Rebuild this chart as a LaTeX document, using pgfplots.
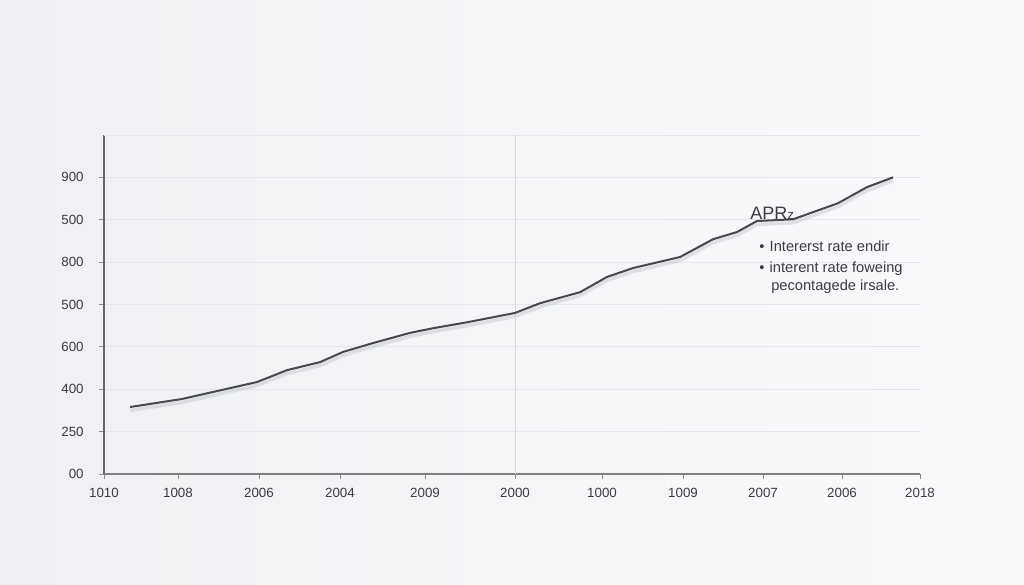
\documentclass[border=0pt]{standalone}
\usepackage{pgfplots}
\pgfplotsset{compat=1.18}
\usepackage{fontspec}
\setmainfont{Liberation Sans}

\definecolor{bgA}{RGB}{238,240,243}
\definecolor{bgB}{RGB}{249,250,251}
\definecolor{lineC}{RGB}{72,72,80}
\definecolor{shadowC}{RGB}{200,202,212}
\definecolor{txt}{RGB}{60,60,64}
\definecolor{gridC}{RGB}{228,230,234}

\begin{document}
\begin{tikzpicture}
\shade[left color=bgA, right color=bgB] (0,0) rectangle (768pt,438.75pt);
\path[use as bounding box] (0,0) rectangle (768pt,438.75pt);
\begin{axis}[
    at={(78pt,83.25pt)}, anchor=south west,
    scale only axis,
    width=612pt, height=254.25pt,
    xmin=104, xmax=920, ymin=0, ymax=8,
    axis x line=bottom, axis y line=left,
    axis line style={-, draw=black!60, line width=0.8pt},
    x axis line style={draw=black!50},
    xtick={104,178,259,340,425,515,602,683,763,842,920},
    xticklabels={1010,1008,2006,2004,2009,2000,1000,1009,2007,2006,2018},
    ytick={0,1,2,3,4,5,6,7},
    yticklabels={00,250,400,600,500,800,500,900},
    extra y ticks={8}, extra y tick labels={},
    extra y tick style={major tick length=0pt},
    tick align=outside, major tick length=3.75pt,
    tick style={draw=black!45, line width=0.6pt},
    ymajorgrids, grid style={draw=gridC, line width=0.6pt},
    ticklabel style={font=\fontsize{10}{12}\selectfont, text=txt},
    yticklabel style={xshift=-8pt},
    xticklabel style={yshift=-3pt},
    /pgf/number format/assume math mode=true,
    clip=false,
]
% vertical reference line
\addplot[draw=black!16, line width=0.6pt] coordinates {(515,0) (515,8)};
% soft shadow of the line
\addplot[draw=shadowC, line width=2.6pt, opacity=0.5, yshift=-2.6pt, line join=round] coordinates {
(130,1.58) (182,1.77) (257,2.17) (287,2.45) (320,2.64) (343,2.88) (373,3.09)
(410,3.33) (433,3.44) (467,3.58) (515,3.80) (540,4.03) (580,4.29) (607,4.65)
(633,4.86) (680,5.12) (713,5.54) (737,5.71) (757,5.97) (793,6.01) (838,6.39)
(867,6.77) (893,7.00)};
% main line
\addplot[draw=lineC, line width=1.5pt, line join=round] coordinates {
(130,1.58) (182,1.77) (257,2.17) (287,2.45) (320,2.64) (343,2.88) (373,3.09)
(410,3.33) (433,3.44) (467,3.58) (515,3.80) (540,4.03) (580,4.29) (607,4.65)
(633,4.86) (680,5.12) (713,5.54) (737,5.71) (757,5.97) (793,6.01) (838,6.39)
(867,6.77) (893,7.00)};
% annotation
\node[anchor=base west, inner sep=0pt, text=txt, font=\fontsize{13.5}{15}\selectfont]
  at (axis cs:750,6.01) {APR\raisebox{-0.5pt}{\fontsize{10}{11}\selectfont z}};
\node[anchor=base west, inner sep=0pt, text=txt, font=\fontsize{11}{13}\selectfont]
  at (axis cs:759,5.26) {\textbullet\hspace{4pt}Intererst rate endir};
\node[anchor=base west, inner sep=0pt, text=txt, font=\fontsize{11}{13}\selectfont]
  at (axis cs:759,4.76) {\textbullet\hspace{4pt}interent rate foweing};
\node[anchor=base west, inner sep=0pt, text=txt, font=\fontsize{11}{13}\selectfont]
  at (axis cs:771,4.34) {pecontagede irsale.};
\end{axis}
\end{tikzpicture}
\end{document}
